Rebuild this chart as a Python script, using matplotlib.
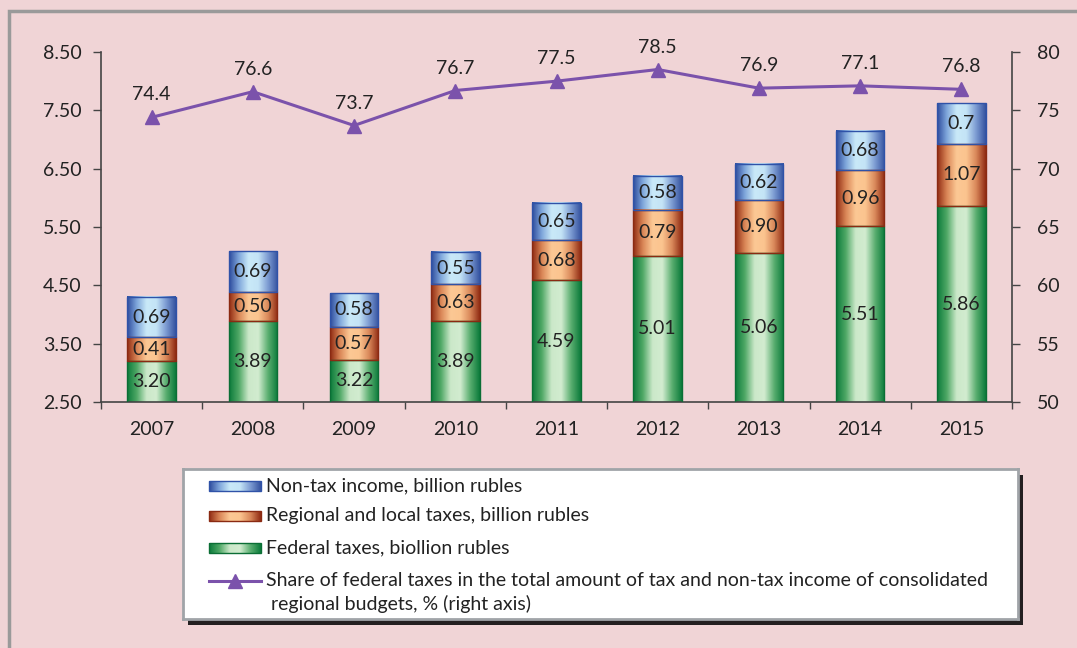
import numpy as np
import matplotlib
matplotlib.use("Agg")
import matplotlib.pyplot as plt
from matplotlib.colors import LinearSegmentedColormap
from matplotlib.patches import Rectangle
from matplotlib.lines import Line2D

plt.rcParams['font.family'] = ['Lato', 'DejaVu Sans']

# ---- data ----
years = ['2007', '2008', '2009', '2010', '2011', '2012', '2013', '2014', '2015']
federal = [3.20, 3.89, 3.22, 3.89, 4.59, 5.01, 5.06, 5.51, 5.86]
regional = [0.41, 0.50, 0.57, 0.63, 0.68, 0.79, 0.90, 0.96, 1.07]
nontax = [0.69, 0.69, 0.58, 0.55, 0.65, 0.58, 0.62, 0.68, 0.70]
federal_labels = ['3.20', '3.89', '3.22', '3.89', '4.59', '5.01', '5.06', '5.51', '5.86']
regional_labels = ['0.41', '0.50', '0.57', '0.63', '0.68', '0.79', '0.90', '0.96', '1.07']
nontax_labels = ['0.69', '0.69', '0.58', '0.55', '0.65', '0.58', '0.62', '0.68', '0.7']
share = [74.4, 76.6, 73.7, 76.7, 77.5, 78.5, 76.9, 77.1, 76.8]
left_ticks = [2.5, 3.5, 4.5, 5.5, 6.5, 7.5, 8.5]
right_ticks = [50, 55, 60, 65, 70, 75, 80]

series_names = ['Non-tax income, billion rubles',
                'Regional and local taxes, billion rubles',
                'Federal taxes, biollion rubles']
line_name = ('Share of federal taxes in the total amount of tax and non-tax income of consolidated\n'
             ' regional budgets, % (right axis)')

# ---- styles ----
FS = 14
BG = '#f0d4d6'
TXT = '#222222'
cm_green = LinearSegmentedColormap.from_list('g', ['#0a7a3a', '#4fa866', '#cbe8c9', '#d2ecd0', '#5aae70', '#0a7a3a'])
cm_orange = LinearSegmentedColormap.from_list('o', ['#8f2a12', '#d98556', '#fcc894', '#fbc48f', '#d9885a', '#8f2a12'])
cm_blue = LinearSegmentedColormap.from_list('b', ['#2c4a9c', '#7fa6db', '#c9e9f8', '#c4e4f6', '#7c9bd2', '#34529f'])
edge_green, edge_orange, edge_blue = '#0b6e35', '#8a2a12', '#2f52a8'
LINE_C = '#7b52ab'

grad = np.linspace(0, 1, 256).reshape(1, -1)

W, H = 1077, 648
fig = plt.figure(figsize=(W / 100, H / 100), dpi=100, facecolor=BG)

# outer gray frame (extends past right/bottom)
fig.patches.append(Rectangle((9 / W, -0.1), 1.2, (H - 11) / H + 0.1, transform=fig.transFigure,
                             fill=False, edgecolor='#9a9a9a', linewidth=2.5, zorder=0))

ax = fig.add_axes([101 / W, 1 - 402 / H, (1012 - 101) / W, (402 - 52) / H])
ax.set_facecolor('none')
x = np.arange(len(years))
bw = 0.48


def draw_seg(xc, y0, y1, cmap, ec):
    ax.imshow(grad, cmap=cmap, extent=[xc - bw / 2, xc + bw / 2, y0, y1],
              aspect='auto', interpolation='bicubic', zorder=2)
    ax.add_patch(Rectangle((xc - bw / 2, y0), bw, y1 - y0, fill=False, edgecolor=ec,
                           linewidth=1.0, zorder=3))


ylo, yhi = 2.5, 8.5
for i in range(len(years)):
    b0 = 0.0
    b1 = federal[i]
    b2 = b1 + regional[i]
    b3 = b2 + nontax[i]
    draw_seg(x[i], b0, b1, cm_green, edge_green)
    draw_seg(x[i], b1, b2, cm_orange, edge_orange)
    draw_seg(x[i], b2, b3, cm_blue, edge_blue)
    ax.text(x[i], (max(b0, ylo) + b1) / 2, federal_labels[i], ha='center', va='center',
            fontsize=FS, color=TXT, zorder=4)
    ax.text(x[i], (b1 + b2) / 2, regional_labels[i], ha='center', va='center',
            fontsize=FS, color=TXT, zorder=4)
    ax.text(x[i], (b2 + b3) / 2, nontax_labels[i], ha='center', va='center',
            fontsize=FS, color=TXT, zorder=4)

ax.set_xlim(-0.5, len(years) - 0.5)
ax.set_ylim(ylo, yhi)
ax.set_yticks(left_ticks)
ax.set_yticklabels([f'{v:.2f}' for v in left_ticks])
ax.set_xticks(np.arange(len(years) + 1) - 0.5)
ax.set_xticklabels([])
ax.set_xticks(x, minor=True)
ax.set_xticklabels(years, minor=True)
ax.tick_params(axis='x', which='major', length=5, width=1, color='#444444', direction='out')
ax.tick_params(axis='x', which='minor', length=0, pad=14, labelsize=FS, labelcolor=TXT)
ax.tick_params(axis='y', length=6, width=1, color='#444444', pad=8, labelsize=FS, labelcolor=TXT)
for s in ['top', 'right']:
    ax.spines[s].set_visible(False)
for s in ['left', 'bottom']:
    ax.spines[s].set_color('#444444')
    ax.spines[s].set_linewidth(1.2)

ax2 = ax.twinx()
ax2.set_facecolor('none')
ax2.plot(x, share, color=LINE_C, linewidth=2.2, marker='^', markersize=10, zorder=5)
for xi, v in zip(x, share):
    ax2.annotate(f'{v:.1f}', (xi, v), xytext=(0, 10), textcoords='offset points',
                 ha='center', va='bottom', fontsize=FS, color=TXT)
ax2.set_ylim(50, 80)
ax2.set_yticks(right_ticks)
ax2.tick_params(axis='y', length=6, width=1, color='#444444', pad=12, labelsize=FS, labelcolor=TXT)
for s in ['top', 'left', 'bottom']:
    ax2.spines[s].set_visible(False)
ax2.spines['right'].set_color('#444444')
ax2.spines['right'].set_linewidth(1.2)

# ---- legend box (manual) ----
lx0, lx1, ly0, ly1 = 183, 1018, 469, 619
fig.patches.append(Rectangle(((lx0 + 5) / W, 1 - (ly1 + 6) / H), (lx1 - lx0) / W, (ly1 - ly0) / H,
                             transform=fig.transFigure, facecolor='#231f20', edgecolor='none', zorder=1))
lax = fig.add_axes([lx0 / W, 1 - ly1 / H, (lx1 - lx0) / W, (ly1 - ly0) / H])
lax.set_zorder(2)
lax.set_facecolor('white')
lax.set_xticks([])
lax.set_yticks([])
for s in lax.spines.values():
    s.set_color('#a0a4a8')
    s.set_linewidth(2)

rows = [486, 516, 548]
for yy, name, cmap, ec in zip(rows, series_names, [cm_blue, cm_orange, cm_green],
                              [edge_blue, edge_orange, edge_green]):
    lax.imshow(grad, cmap=cmap, extent=[209, 261, yy + 5, yy - 5], aspect='auto',
               interpolation='bicubic')
    lax.add_patch(Rectangle((209, yy - 5), 52, 10, fill=False, edgecolor=ec, linewidth=1))
    lax.text(266, yy, name, ha='left', va='center', fontsize=FS, color=TXT)
lax.add_line(Line2D([209, 261], [581, 581], color=LINE_C, linewidth=2.2))
lax.plot([235], [581], marker='^', color=LINE_C, markersize=10, linestyle='none')
name_lines = line_name.split('\n')
lax.text(266, 581, name_lines[0], ha='left', va='center', fontsize=FS, color=TXT)
lax.text(266, 604, name_lines[1], ha='left', va='center', fontsize=FS, color=TXT)
lax.set_xlim(lx0, lx1)
lax.set_ylim(ly1, ly0)

fig.savefig('out.png', dpi=100, facecolor=BG)
